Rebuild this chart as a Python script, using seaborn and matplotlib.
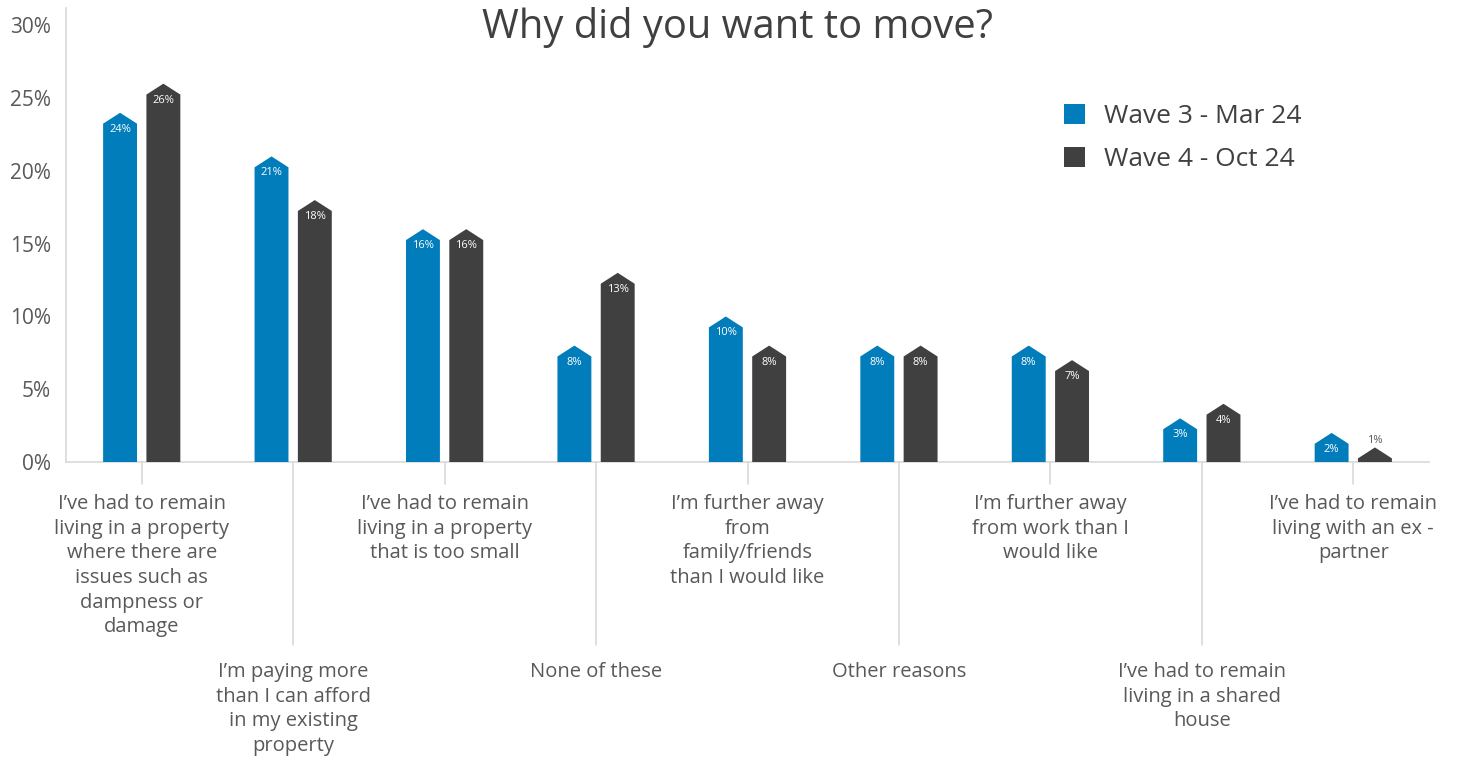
import matplotlib
matplotlib.use("Agg")
import matplotlib.pyplot as plt
from matplotlib.patches import Polygon, Patch
import seaborn as sns
import pandas as pd

# ---- data -------------------------------------------------------------
categories = [
    "I’ve had to remain\nliving in a property\nwhere there are\nissues such as\ndampness or\ndamage",
    "I’m paying more\nthan I can afford\nin my existing\nproperty",
    "I’ve had to remain\nliving in a property\nthat is too small",
    "None of these",
    "I’m further away\nfrom\nfamily/friends\nthan I would like",
    "Other reasons",
    "I’m further away\nfrom work than I\nwould like",
    "I’ve had to remain\nliving in a shared\nhouse",
    "I’ve had to remain\nliving with an ex -\npartner",
]
waves = ["Wave 3 - Mar 24", "Wave 4 - Oct 24"]
wave3 = [24, 21, 16, 8, 10, 8, 8, 3, 2]
wave4 = [26, 18, 16, 13, 8, 8, 7, 4, 1]
y_ticks = [0, 5, 10, 15, 20, 25, 30]
title = "Why did you want to move?"

colors = ["#007DBA", "#404040"]
text_dark = "#404040"
text_grey = "#595959"
axis_grey = "#D9D9D9"

df = pd.DataFrame({
    "category": categories * 2,
    "wave": [waves[0]] * len(categories) + [waves[1]] * len(categories),
    "value": wave3 + wave4,
})

# ---- figure -----------------------------------------------------------
sns.set_style("white")
plt.rcParams["font.family"] = ["Open Sans", "DejaVu Sans"]

W, H = 1458, 762
fig = plt.figure(figsize=(W / 100, H / 100), dpi=100)
ax_left, ax_right, ax_top, ax_bottom = 66, 1429, 8, 462
ax = fig.add_axes([ax_left / W, 1 - ax_bottom / H,
                   (ax_right - ax_left) / W, (ax_bottom - ax_top) / H])

sns.barplot(data=df, x="category", y="value", hue="wave",
            order=categories, hue_order=waves, palette=colors,
            saturation=1, width=0.572, gap=0.217, legend=False, ax=ax)

ax.set_xlim(-0.5, len(categories) - 0.5)
ax.set_ylim(0, 31.2)

# pointed "house" tops on every bar
point = 0.75
for container in ax.containers:
    for bar in container:
        x0, w, h = bar.get_x(), bar.get_width(), bar.get_height()
        shoulder = max(0.0, h - point)
        poly = Polygon([(x0, 0), (x0, shoulder), (x0 + w / 2, h),
                        (x0 + w, shoulder), (x0 + w, 0)],
                       closed=True, facecolor=bar.get_facecolor(),
                       edgecolor="none", zorder=3)
        ax.add_patch(poly)
        bar.set_visible(False)
        label = f"{h:.0f}%"
        if shoulder >= 1.0:
            ax.annotate(label, (x0 + w / 2, shoulder), xytext=(0, -4),
                        textcoords="offset points", ha="center", va="center",
                        fontsize=8, color="white", zorder=4)
        else:
            ax.annotate(label, (x0 + w / 2, h), xytext=(0, 1),
                        textcoords="offset points", ha="center", va="bottom",
                        fontsize=8, color=text_grey, zorder=4)

# axes styling
ax.set_yticks(y_ticks)
ax.set_yticklabels([f"{t}%" for t in y_ticks])
ax.tick_params(axis="y", length=0, pad=11, labelsize=15, labelcolor=text_grey)
ax.tick_params(axis="x", length=0, labelbottom=False)
ax.set_xlabel("")
ax.set_ylabel("")
for side in ("top", "right"):
    ax.spines[side].set_visible(False)
for side in ("left", "bottom"):
    ax.spines[side].set_color(axis_grey)
    ax.spines[side].set_linewidth(1.2)
ax.grid(False)

# staggered category labels with leader ticks
ax_h_px = ax_bottom - ax_top
px = 0.72  # points per pixel at 100 dpi
xform = ax.get_xaxis_transform()
for i, cat in enumerate(categories):
    if i % 2 == 0:
        tick_px, text_px = 22, 32
    else:
        tick_px, text_px = 183, 200
    ax.plot([i, i], [0, -tick_px / ax_h_px], transform=xform,
            color=axis_grey, lw=1.2, clip_on=False, zorder=1)
    ax.annotate(cat, (i, 0), xycoords=xform, xytext=(0, -text_px * px),
                textcoords="offset points", ha="center", va="top",
                fontsize=14.5, color=text_grey, linespacing=1.31,
                annotation_clip=False)

# title
fig.text(738 / W, 1 - 27 / H, title, ha="center", va="center",
         fontsize=28.7, color=text_dark)

# legend
handles = [Patch(facecolor=c, edgecolor="none") for c in colors]
fig.legend(handles, waves, loc="upper left",
           bbox_to_anchor=(1064 / W, 1 - 104 / H), frameon=False,
           fontsize=19, handlelength=0.8, handleheight=0.8,
           handletextpad=0.7, labelspacing=0.68, borderpad=0,
           borderaxespad=0, labelcolor=text_dark)

fig.savefig("out.png", dpi=100)
